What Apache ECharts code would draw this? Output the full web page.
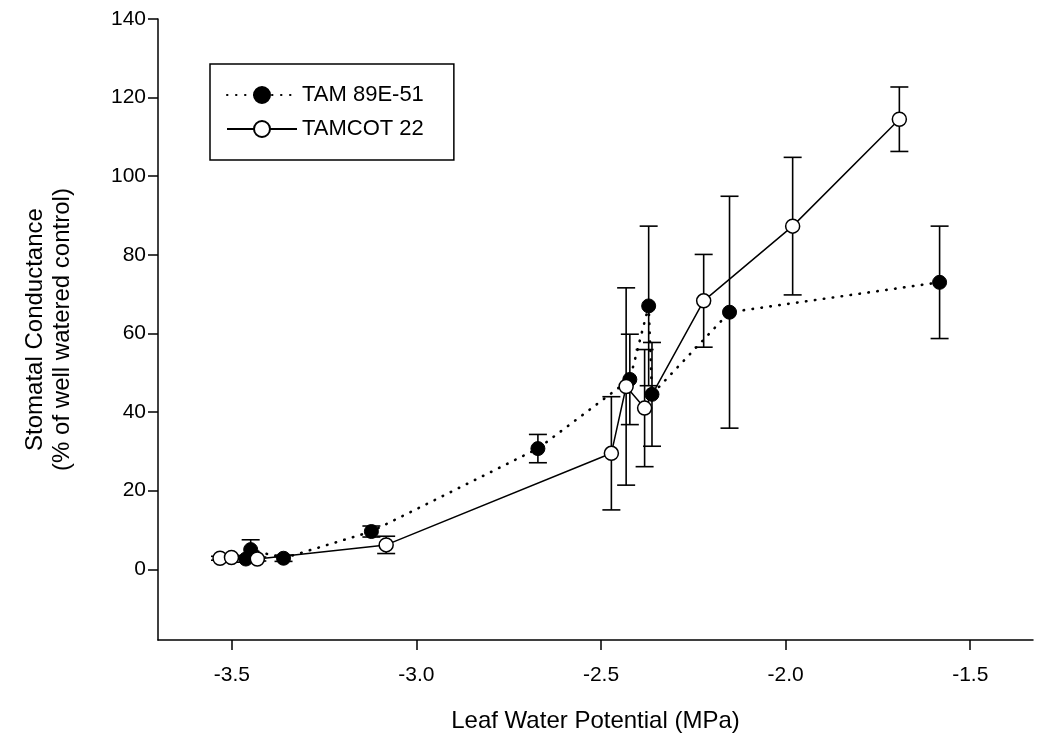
<!DOCTYPE html>
<html>
<head>
<meta charset="utf-8">
<script src="https://cdn.jsdelivr.net/npm/echarts@6/dist/echarts.min.js"></script>
<style>
  html, body { margin: 0; padding: 0; background: #fff; }
  #chart { width: 1038px; height: 747px; }
</style>
</head>
<body>
<div id="chart"></div>
<script>
// TAM 89E-51 (filled circles, dotted line)
var tamX = [-3.462, -3.449, -3.360, -3.122, -2.671, -2.422, -2.371, -2.362, -2.152, -1.583];
var tamY = [2.6, 5.0, 2.8, 9.6, 30.7, 48.3, 67.0, 44.5, 65.4, 73.0];
var tamErr = [0.8, 2.5, 0.8, 1.4, 3.6, 11.5, 20.3, 13.2, 29.5, 14.3];

// TAMCOT 22 (open circles, solid line)
var tcX = [-3.532, -3.501, -3.431, -3.082, -2.472, -2.432, -2.382, -2.222, -1.981, -1.692];
var tcY = [2.8, 3.0, 2.6, 6.2, 29.5, 46.5, 41.0, 68.3, 87.3, 114.5];
var tcErr = [0.5, 0.5, 0.5, 2.2, 14.4, 25.1, 14.9, 11.8, 17.5, 8.2];

var xTicks = [-3.5, -3.0, -2.5, -2.0, -1.5];
var yTicks = [0, 20, 40, 60, 80, 100, 120, 140];

var font = "'Liberation Sans', Arial, sans-serif";

function pairs(xs, ys) {
    return xs.map(function (x, i) { return [x, ys[i]]; });
}

function errData(xs, ys, es) {
    return xs.map(function (x, i) { return [x, ys[i] - es[i], ys[i] + es[i]]; });
}

function renderErr(params, api) {
    var lo = api.coord([api.value(0), api.value(1)]);
    var hi = api.coord([api.value(0), api.value(2)]);
    var hw = 9;
    var st = { stroke: '#000', lineWidth: 1.6 };
    return {
        type: 'group',
        children: [
            { type: 'line', shape: { x1: lo[0], y1: lo[1], x2: hi[0], y2: hi[1] }, style: st },
            { type: 'line', shape: { x1: lo[0] - hw, y1: lo[1], x2: lo[0] + hw, y2: lo[1] }, style: st },
            { type: 'line', shape: { x1: hi[0] - hw, y1: hi[1], x2: hi[0] + hw, y2: hi[1] }, style: st }
        ]
    };
}

var chart = echarts.init(document.getElementById('chart'), null, { renderer: 'canvas' });

var option = {
    backgroundColor: '#fff',
    animation: false,
    grid: { left: 158, top: 19, right: 5, bottom: 107 },
    legend: {
        orient: 'vertical',
        left: 210,
        top: 64,
        padding: [20, 30, 20, 16],
        itemWidth: 70,
        itemHeight: 20,
        itemGap: 12,
        borderColor: '#000',
        borderWidth: 1.5,
        textStyle: { fontSize: 22, color: '#000', fontFamily: font },
        data: ['TAM 89E-51', 'TAMCOT 22']
    },
    xAxis: {
        type: 'value',
        min: -3.7,
        max: -1.33,
        name: 'Leaf Water Potential (MPa)',
        nameLocation: 'middle',
        nameGap: 69,
        nameTextStyle: { fontSize: 24, color: '#000', fontFamily: font },
        axisLine: { onZero: false, lineStyle: { color: '#000', width: 1.5 } },
        axisTick: { customValues: xTicks, length: 10, lineStyle: { color: '#000', width: 1.5 } },
        axisLabel: {
            customValues: xTicks,
            margin: 25,
            fontSize: 21,
            color: '#000',
            fontFamily: font,
            formatter: function (v) { return v.toFixed(1); }
        },
        splitLine: { show: false }
    },
    yAxis: {
        type: 'value',
        min: -18,
        max: 140,
        name: 'Stomatal Conductance\n(% of well watered control)',
        nameLocation: 'middle',
        nameGap: 82,
        nameTextStyle: { fontSize: 24, color: '#000', fontFamily: font, lineHeight: 27 },
        axisLine: { onZero: false, lineStyle: { color: '#000', width: 1.5 } },
        axisTick: { customValues: yTicks, length: 10, lineStyle: { color: '#000', width: 1.5 } },
        axisLabel: {
            customValues: yTicks,
            margin: 12,
            fontSize: 21,
            color: '#000',
            fontFamily: font
        },
        splitLine: { show: false }
    },
    series: [
        {
            type: 'custom',
            name: 'tamErr',
            renderItem: renderErr,
            data: errData(tamX, tamY, tamErr),
            encode: { x: 0, y: [1, 2] },
            z: 1
        },
        {
            type: 'custom',
            name: 'tcErr',
            renderItem: renderErr,
            data: errData(tcX, tcY, tcErr),
            encode: { x: 0, y: [1, 2] },
            z: 1
        },
        {
            type: 'line',
            name: 'TAM 89E-51',
            data: pairs(tamX, tamY),
            symbol: 'circle',
            symbolSize: 14,
            lineStyle: { color: '#000', width: 2.6, type: [0.5, 8.5], cap: 'round' },
            itemStyle: { color: '#000', borderColor: '#000', borderWidth: 1 },
            z: 2
        },
        {
            type: 'line',
            name: 'TAMCOT 22',
            data: pairs(tcX, tcY),
            symbol: 'circle',
            symbolSize: 14,
            lineStyle: { color: '#000', width: 1.5 },
            itemStyle: { color: '#fff', borderColor: '#000', borderWidth: 1.5 },
            z: 3
        }
    ]
};

chart.setOption(option);
</script>
</body>
</html>
